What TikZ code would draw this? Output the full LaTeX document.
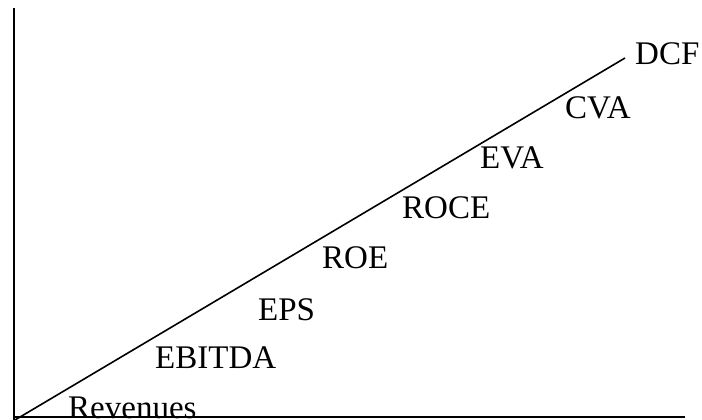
\documentclass[tikz,border=0pt]{standalone}
\usepackage{fontspec}
\setmainfont{Liberation Serif}
\usepackage{tikz}
\usetikzlibrary{positioning}

\begin{document}
\begin{tikzpicture}[x=1pt, y=-1pt,
    axis/.style={line width=1.6pt},
    measure/.style={anchor=base west, inner sep=0pt, font=\fontsize{33}{40}\selectfont}]
  \useasboundingbox (0,0) rectangle (702,420);

  % axes
  \coordinate (ytop) at (14,8);
  \coordinate (origin) at (14,420);
  \coordinate (xstart) at (14,417);
  \coordinate (xend) at (685,417);
  \draw[axis] (ytop) -- (origin);
  \draw[axis] (xstart) -- (xend);

  % trend line
  \coordinate (lo) at (15,420);
  \coordinate (hi) at (625,58);
  \draw[axis] (lo) -- (hi);

  % measures along the line
  \node[measure] (rev) at (68,418) {Revenues};
  \node[measure] (ebitda) at (155,368) {EBITDA};
  \node[measure] (eps) at (258,320) {EPS};
  \node[measure] (roe) at (322,268) {ROE};
  \node[measure] (roce) at (402,218) {ROCE};
  \node[measure] (eva) at (480,168) {EVA};
  \node[measure] (cva) at (565,118) {CVA};
  \node[measure] (dcf) at (635,65) {DCF};
\end{tikzpicture}
\end{document}
